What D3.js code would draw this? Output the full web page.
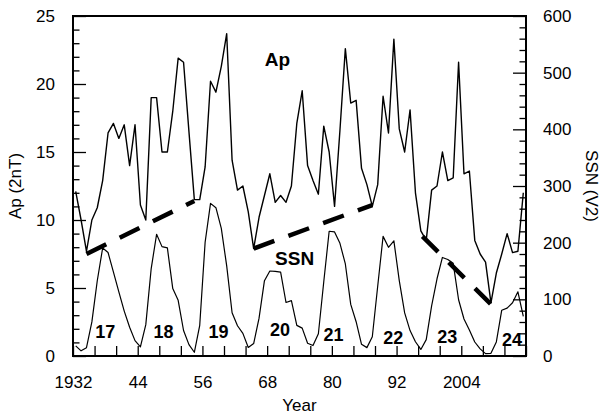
<!DOCTYPE html>
<html>
<head>
  <meta charset="utf-8">
  <script src="https://d3js.org/d3.v7.min.js"></script>
  <style>
    body { margin: 0; background: #fff; }
    text { font-family: "Liberation Sans", Arial, Helvetica, sans-serif; fill: #000; }
  </style>
</head>
<body>
<div id="chart"></div>
<script>
  // yearly values, 1932..2015
  var firstYear = 1932;
  var apValues = [
    12.1, 10.0, 7.7, 10.0, 10.9, 12.9, 16.4, 17.1, 16.0, 17.0,
    14.0, 17.0, 11.1, 10.0, 19.0, 19.0, 15.0, 15.0, 18.0, 21.9,
    21.6, 16.5, 11.5, 11.5, 13.9, 20.2, 19.4, 21.3, 23.7, 14.4,
    12.2, 12.5, 10.6, 7.9, 10.2, 11.8, 13.4, 11.3, 11.8, 11.3,
    12.5, 17.1, 19.5, 14.0, 12.9, 11.9, 16.9, 15.0, 11.0, 16.6,
    22.6, 18.6, 18.8, 13.8, 12.6, 11.0, 12.6, 19.1, 16.4, 23.3,
    16.7, 15.0, 18.1, 12.0, 9.2, 8.5, 12.2, 12.5, 15.0, 12.9,
    13.1, 21.6, 13.4, 13.6, 8.5, 7.5, 6.9, 3.9, 6.1, 7.5,
    9.0, 7.6, 7.7, 12.0
  ];
  var ssnValues = [
    17.9, 9.1, 14.6, 60.2, 132.8, 190.6, 182.6, 148.0, 113.0, 79.2,
    50.8, 27.1, 16.1, 55.3, 154.3, 214.7, 193.0, 190.7, 118.9, 98.3,
    45.0, 20.1, 6.6, 54.2, 200.7, 269.3, 261.7, 225.1, 159.0, 76.4,
    53.4, 39.9, 15.0, 22.0, 66.8, 132.9, 150.0, 149.4, 148.0, 94.4,
    97.6, 54.1, 49.2, 22.5, 18.4, 39.3, 131.0, 220.1, 218.9, 198.9,
    162.4, 91.0, 60.5, 20.6, 14.8, 33.9, 123.0, 211.1, 191.8, 203.3,
    133.0, 76.1, 44.9, 25.1, 11.6, 28.9, 88.3, 136.3, 173.9, 170.4,
    163.6, 99.3, 65.3, 45.8, 24.7, 12.6, 4.2, 4.8, 24.9, 80.8,
    84.5, 94.0, 113.3, 69.8
  ];

  // Ap trend lines between cycle minima: [year, Ap]
  var trendLines = [
    [[1934, 7.5], [1954, 11.4]],
    [[1965, 7.9], [1987, 11.1]],
    [[1996.3, 8.8], [2009, 3.8]]
  ];

  // solar cycle numbers: [label, year, SSN]
  var cycleLabels = [
    ["17", 1938.0, 43], ["18", 1948.8, 43], ["19", 1959.0, 43], ["20", 1970.4, 46],
    ["21", 1980.3, 37], ["22", 1991.4, 32], ["23", 2001.4, 34], ["24", 2013.4, 28]
  ];

  var xLabelYears = [1932, 1944, 1956, 1968, 1980, 1992, 2004];

  var W = 608, H = 417;
  var plotL = 73, plotR = 526, plotT = 16, plotB = 356;

  var svg = d3.select("#chart").append("svg")
    .attr("width", W).attr("height", H);

  var x = d3.scaleLinear().domain([1932, 2016]).range([plotL, plotR]);
  var yAp = d3.scaleLinear().domain([0, 25]).range([plotB, plotT]);
  var ySsn = d3.scaleLinear().domain([0, 600]).range([plotB, plotT]);

  var apData = apValues.map(function (v, i) { return { year: firstYear + i, v: v }; });
  var ssnData = ssnValues.map(function (v, i) { return { year: firstYear + i, v: v }; });

  var apLine = d3.line()
    .x(function (d) { return x(d.year + 0.5); })
    .y(function (d) { return yAp(d.v); });
  var ssnLine = d3.line()
    .x(function (d) { return x(d.year + 0.5); })
    .y(function (d) { return ySsn(d.v); });

  svg.append("path").datum(ssnData)
    .attr("d", ssnLine)
    .attr("fill", "none").attr("stroke", "#000").attr("stroke-width", 1.2)
    .attr("stroke-linejoin", "round");

  svg.append("path").datum(apData)
    .attr("d", apLine)
    .attr("fill", "none").attr("stroke", "#000").attr("stroke-width", 1.4)
    .attr("stroke-linejoin", "round");

  var trendLine = d3.line()
    .x(function (d) { return x(d[0] + 0.5); })
    .y(function (d) { return yAp(d[1]); });

  svg.selectAll(".trend").data(trendLines).enter().append("path")
    .attr("class", "trend")
    .attr("d", trendLine)
    .attr("fill", "none").attr("stroke", "#000").attr("stroke-width", 4.5)
    .attr("stroke-dasharray", "22,15");

  // axes
  var xAxis = d3.axisBottom(x)
    .tickValues(d3.range(1932, 2017, 4))
    .tickSize(-10).tickPadding(20)
    .tickFormat(function (d) {
      if (xLabelYears.indexOf(d) < 0) return "";
      return (d < 2000 && d !== 1932) ? String(d).slice(2) : String(d);
    });
  var gx = svg.append("g").attr("transform", "translate(0," + plotB + ")").call(xAxis);

  var leftAxis = d3.axisLeft(yAp)
    .tickValues(d3.range(0, 26, 1))
    .tickSize(-6.5).tickPadding(18)
    .tickFormat(function (d) { return d % 5 === 0 ? d : ""; });
  var gl = svg.append("g").attr("transform", "translate(" + plotL + ",0)").call(leftAxis);
  gl.selectAll(".tick line").attr("x2", function (d) { return d % 5 === 0 ? 13 : 6.5; });

  var rightAxis = d3.axisRight(ySsn)
    .tickValues(d3.range(0, 601, 20))
    .tickSize(-6.5).tickPadding(17)
    .tickFormat(function (d) { return d % 100 === 0 ? d : ""; });
  var gr = svg.append("g").attr("transform", "translate(" + plotR + ",0)").call(rightAxis);
  gr.selectAll(".tick line").attr("x2", function (d) { return d % 100 === 0 ? -13 : -6.5; });

  [gx, gl, gr].forEach(function (g) {
    g.select(".domain").remove();
    g.selectAll(".tick line").attr("stroke", "#000").attr("stroke-width", 1.3);
    g.selectAll(".tick text")
      .style("font-family", "'Liberation Sans', Arial, Helvetica, sans-serif")
      .style("font-size", "17px").attr("fill", "#000");
  });

  svg.append("rect")
    .attr("x", plotL).attr("y", plotT)
    .attr("width", plotR - plotL).attr("height", plotB - plotT)
    .attr("fill", "none").attr("stroke", "#000").attr("stroke-width", 2);

  // labels
  svg.append("text").attr("x", x(1969.9)).attr("y", yAp(21.3))
    .attr("text-anchor", "middle")
    .style("font-size", "19px").style("font-weight", "bold").text("Ap");

  svg.append("text").attr("x", x(1973.1)).attr("y", ySsn(160))
    .attr("text-anchor", "middle")
    .style("font-size", "19px").style("font-weight", "bold").text("SSN");

  svg.selectAll(".cyc").data(cycleLabels).enter().append("text")
    .attr("class", "cyc")
    .attr("x", function (d) { return x(d[1]); })
    .attr("y", function (d) { return ySsn(d[2]); })
    .attr("text-anchor", "middle").attr("dy", "0.35em")
    .style("font-size", "18px").style("font-weight", "bold")
    .text(function (d) { return d[0]; });

  svg.append("text")
    .attr("transform", "translate(21," + ((plotT + plotB) / 2) + ") rotate(-90)")
    .attr("text-anchor", "middle")
    .style("font-size", "17px").text("Ap (2nT)");

  svg.append("text")
    .attr("transform", "translate(586," + ((plotT + plotB) / 2) + ") rotate(90)")
    .attr("text-anchor", "middle")
    .style("font-size", "17px").text("SSN (V2)");

  svg.append("text")
    .attr("x", (plotL + plotR) / 2).attr("y", 411)
    .attr("text-anchor", "middle")
    .style("font-size", "17px").text("Year");
</script>
</body>
</html>
